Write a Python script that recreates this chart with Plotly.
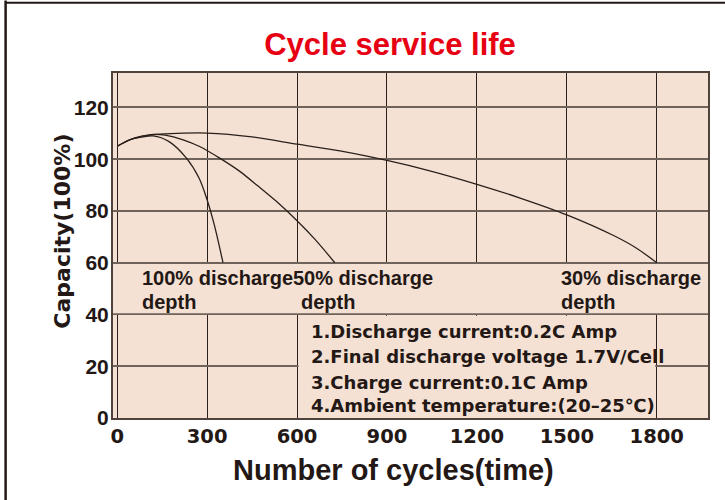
import plotly.graph_objects as go

# ---- data ----
x_tick_vals = [0, 300, 600, 900, 1200, 1500, 1800]
y_tick_vals = [0, 20, 40, 60, 80, 100, 120]

cycles_100 = [0, 42, 80, 120, 173, 231, 273, 298, 324, 353]
cap_100 = [105.0, 107.5, 108.5, 109.0, 106.8, 100.4, 92.7, 85.0, 74.6, 60.0]

cycles_50 = [0, 42, 80, 120, 160, 220, 275, 342, 409, 470, 530, 600, 660, 726]
cap_50 = [105.0, 107.5, 108.8, 109.6, 109.3, 107.5, 104.9, 100.4, 95.3, 89.6, 83.8, 76.2, 69.0, 60.0]

cycles_30 = [0, 42, 80, 130, 200, 300, 450, 600, 743, 900, 1043, 1200, 1344, 1500, 1656, 1734, 1800]
cap_30 = [105.0, 107.5, 108.8, 109.6, 110.0, 110.1, 108.6, 105.8, 103.2, 99.5, 95.5, 90.3, 85.0, 78.5, 70.5, 65.5, 60.0]

curve_labels = [
    ("100% discharge", 75, 54.0), ("depth", 75, 45.0),
    ("50% discharge", 579, 54.0), ("depth", 606, 45.0),
    ("30% discharge", 1474, 54.0), ("depth", 1474, 45.0),
]
notes = [
    "1.Discharge current:0.2C Amp",
    "2.Final discharge voltage 1.7V/Cell",
    "3.Charge current:0.1C Amp",
    "4.Ambient temperature:(20\u201325\u2103)",
]
notes_x = 639
notes_y = [33.3, 23.6, 13.9, 4.7]

X_RANGE = [-14, 1971]
Y_RANGE = [0, 133.3]

BG = "#F5E1D3"
INK = "#231815"
CURVE = "#2a201b"

fig = go.Figure()
for xs, ys in [(cycles_100, cap_100), (cycles_50, cap_50), (cycles_30, cap_30)]:
    fig.add_trace(go.Scatter(x=xs, y=ys, mode="lines",
                             line=dict(color=CURVE, width=1.3, shape="spline", smoothing=0.8),
                             hoverinfo="skip", showlegend=False))

# cover band for labels (no vertical gridlines) and the notes box
fig.add_shape(type="rect", xref="x", yref="y", x0=X_RANGE[0], x1=X_RANGE[1], y0=40.5, y1=59.5,
              fillcolor=BG, line=dict(width=0), layer="between")
fig.add_shape(type="rect", xref="x", yref="y", x0=605, x1=1795, y0=0, y1=39.5,
              fillcolor=BG, line=dict(width=0), layer="between")

for txt, xv, yv in curve_labels:
    fig.add_annotation(x=xv, y=yv, xref="x", yref="y", text=txt, showarrow=False,
                       xanchor="left", yanchor="middle",
                       font=dict(family="Liberation Sans, Arial, sans-serif", size=20, color=INK, weight="bold"))
for txt, yv in zip(notes, notes_y):
    fig.add_annotation(x=notes_x, y=yv, xref="x", yref="y", text=txt, showarrow=False,
                       xanchor="left", yanchor="middle",
                       font=dict(family="DejaVu Sans, sans-serif", size=18, color=INK, weight="bold"))

# axis titles
fig.add_annotation(x=0.472, y=-0.151, xref="paper", yref="paper", text="Number of cycles(time)",
                   showarrow=False, xanchor="center", yanchor="middle",
                   font=dict(family="Liberation Sans, Arial, sans-serif", size=29, color=INK, weight="bold"))
fig.add_annotation(x=-0.0863, y=0.542, xref="paper", yref="paper", text="Capacity(100%)",
                   showarrow=False, xanchor="center", yanchor="middle", textangle=-90,
                   font=dict(family="DejaVu Sans, sans-serif", size=22, color=INK, weight="bold"))

# outer frame
fig.add_shape(type="line", xref="paper", yref="paper", x0=-0.1805, x1=1.05, y0=1.2035, y1=1.2035,
              line=dict(color=INK, width=2))
fig.add_shape(type="line", xref="paper", yref="paper", x0=-0.1805, x1=-0.1805, y0=-0.25, y1=1.21,
              line=dict(color=INK, width=2.5))

fig.update_layout(
    width=725, height=500,
    margin=dict(l=113, r=17, t=73, b=82),
    paper_bgcolor="white", plot_bgcolor=BG,
    title=dict(text="Cycle service life", x=0.538, xref="container", xanchor="center",
               y=0.912, yref="container", yanchor="middle",
               font=dict(family="Liberation Sans, Arial, sans-serif", size=31, color="#E60012", weight="bold")),
    showlegend=False,
)
fig.update_xaxes(range=X_RANGE, tickvals=x_tick_vals, ticktext=[str(v) for v in x_tick_vals],
                 showgrid=True, gridcolor="#2a1f1a", gridwidth=1.3, zeroline=False,
                 showline=True, linecolor="#4f423b", linewidth=2, mirror=True,
                 ticks="", tickfont=dict(family="DejaVu Sans, sans-serif", size=19.5, color=INK, weight="bold"),
                 fixedrange=True)
fig.update_yaxes(range=Y_RANGE, tickvals=y_tick_vals, ticktext=[str(v) for v in y_tick_vals],
                 showgrid=True, gridcolor="#6f625a", gridwidth=2, zeroline=False,
                 showline=True, linecolor="#4f423b", linewidth=2, mirror=True,
                 ticks="", ticklabelstandoff=-2,
                 tickfont=dict(family="Liberation Sans, Arial, sans-serif", size=21, color=INK, weight="bold"),
                 fixedrange=True)

fig.write_html("out.html", config={"displayModeBar": False},
               post_script="document.body.style.margin='0';document.body.style.overflow='hidden';")
